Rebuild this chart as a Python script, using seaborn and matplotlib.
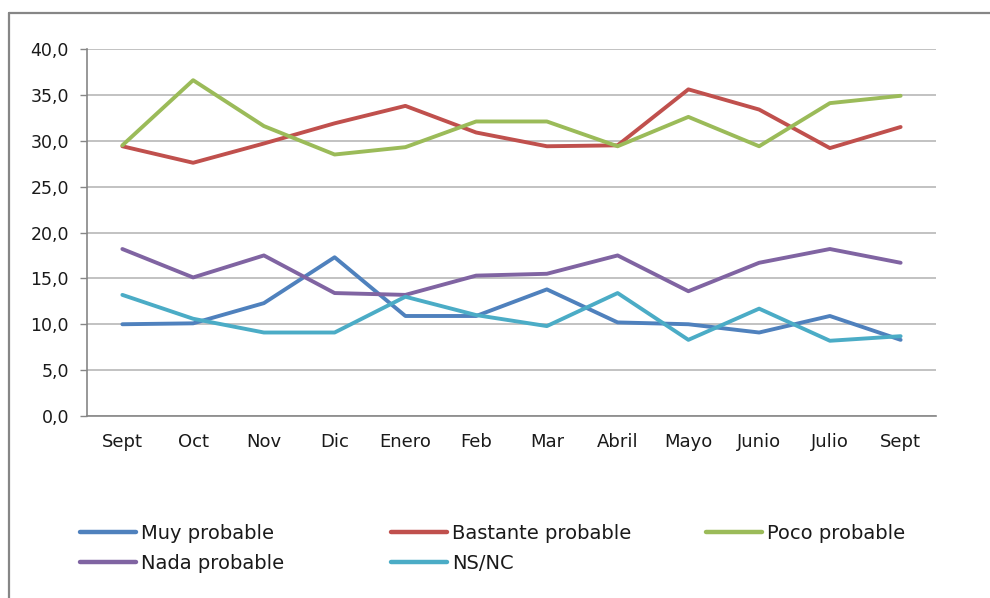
import numpy as np
import pandas as pd
import matplotlib
matplotlib.use("Agg")
import matplotlib.pyplot as plt
import seaborn as sns
from matplotlib.lines import Line2D
from matplotlib.ticker import FuncFormatter

# months of the survey (Sept appears twice: start and end of the year)
months = ["Sept", "Oct", "Nov", "Dic", "Enero", "Feb", "Mar", "Abril",
          "Mayo", "Junio", "Julio", "Sept"]

muy_probable = [10.0, 10.1, 12.3, 17.3, 10.9, 10.9, 13.8, 10.2, 10.0, 9.1, 10.9, 8.3]
bastante_probable = [29.4, 27.6, 29.7, 31.9, 33.8, 30.9, 29.4, 29.5, 35.6, 33.4, 29.2, 31.5]
poco_probable = [29.5, 36.6, 31.6, 28.5, 29.3, 32.1, 32.1, 29.4, 32.6, 29.4, 34.1, 34.9]
nada_probable = [18.2, 15.1, 17.5, 13.4, 13.2, 15.3, 15.5, 17.5, 13.6, 16.7, 18.2, 16.7]
ns_nc = [13.2, 10.6, 9.1, 9.1, 13.0, 11.0, 9.8, 13.4, 8.3, 11.7, 8.2, 8.7]

series_names = ["Muy probable", "Bastante probable", "Poco probable",
                "Nada probable", "NS/NC"]
series_values = [muy_probable, bastante_probable, poco_probable,
                 nada_probable, ns_nc]
colors = ["#4F81BD", "#C0504D", "#9BBB59", "#8064A2", "#4BACC6"]


def build_frame():
    rows = []
    for name, vals in zip(series_names, series_values):
        for i, v in enumerate(vals):
            rows.append({"pos": i, "valor": v, "serie": name})
    return pd.DataFrame(rows)


def main():
    df = build_frame()

    sns.set_style("white")
    plt.rcParams["font.family"] = ["DejaVu Sans"]

    fig = plt.figure(figsize=(9.9, 5.98), dpi=100)
    ax = fig.add_axes([87 / 990, 1 - 416 / 598, (936 - 87) / 990, (416 - 49) / 598])

    sns.lineplot(data=df, x="pos", y="valor", hue="serie", hue_order=series_names,
                 palette=colors, linewidth=2.8, ax=ax, legend=False,
                 solid_capstyle="round", zorder=3)

    # axes look like the old office chart
    ax.set_xlim(-0.5, len(months) - 0.5)
    ax.set_ylim(0, 40)
    ax.set_yticks(np.arange(0, 41, 5))
    ax.yaxis.set_major_formatter(FuncFormatter(lambda v, p: f"{v:.1f}".replace(".", ",")))
    ax.grid(axis="y", color="#b8b8b8", linewidth=1.2)
    ax.set_axisbelow(True)

    ax.set_xticks(np.arange(-0.5, len(months), 1.0))
    ax.set_xticklabels([])
    ax.set_xticks(np.arange(len(months)), minor=True)
    ax.set_xticklabels(months, minor=True)
    ax.tick_params(axis="x", which="major", length=5, width=1, color="#868686", direction="out")
    ax.tick_params(axis="x", which="minor", length=0, pad=12, labelsize=13, labelcolor="#1a1a1a")
    ax.tick_params(axis="y", length=5, width=1, color="#868686", pad=8,
                   labelsize=12.5, labelcolor="#1a1a1a", left=True)
    ax.set_xlabel("")
    ax.set_ylabel("")

    for side in ["top", "right"]:
        ax.spines[side].set_visible(False)
    for side in ["left", "bottom"]:
        ax.spines[side].set_color("#868686")
        ax.spines[side].set_linewidth(1.2)

    # legend in three fixed columns, row-major like the original
    handles = [Line2D([0], [0], color=c, lw=3.2, solid_capstyle="round") for c in colors]
    col_x = [80 / 990, 391 / 990, 706 / 990]
    groups = [[0, 3], [1, 4], [2]]
    for cx, idx in zip(col_x, groups):
        leg = fig.legend([handles[i] for i in idx], [series_names[i] for i in idx],
                         loc="upper left", bbox_to_anchor=(cx, 1 - 524 / 598),
                         frameon=False, fontsize=14, handlelength=2.9,
                         handletextpad=0.25, labelspacing=0.58, borderpad=0,
                         borderaxespad=0)
        for t in leg.get_texts():
            t.set_color("#1a1a1a")

    # chart frame (top and left edges visible)
    fig.add_artist(Line2D([9 / 990, 1.0], [1 - 13 / 598, 1 - 13 / 598],
                          transform=fig.transFigure, color="#868686", lw=1.6))
    fig.add_artist(Line2D([9 / 990, 9 / 990], [0.0, 1 - 13 / 598],
                          transform=fig.transFigure, color="#868686", lw=1.6))

    fig.savefig("out.png", dpi=100)


if __name__ == "__main__":
    main()
